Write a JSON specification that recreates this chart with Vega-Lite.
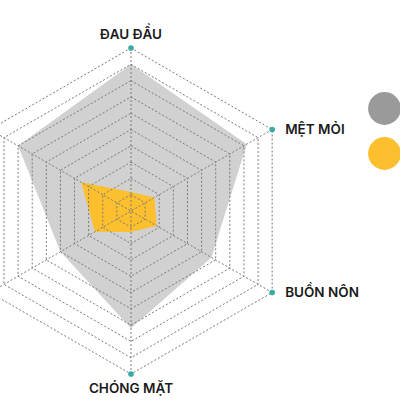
{
  "$schema": "https://vega.github.io/schema/vega-lite/v6.json",
  "width": 400,
  "height": 400,
  "padding": 0,
  "autosize": "none",
  "config": {"view": {"stroke": null}, "font": "Inter"},
  "datasets": {
    "axes": [
      {"idx": 0, "name": "ĐAU ĐẦU"},
      {"idx": 1, "name": "MỆT MỎI"},
      {"idx": 2, "name": "BUỒN NÔN"},
      {"idx": 3, "name": "CHÓNG MẶT"},
      {"idx": 4, "name": "CHÁN ĂN"},
      {"idx": 5, "name": "MẤT NGỦ"}
    ],
    "scores": [
      {"series": "Nhóm 1", "idx": 0, "value": 9.0},
      {"series": "Nhóm 1", "idx": 1, "value": 8.2},
      {"series": "Nhóm 1", "idx": 2, "value": 5.7},
      {"series": "Nhóm 1", "idx": 3, "value": 7.2},
      {"series": "Nhóm 1", "idx": 4, "value": 5.0},
      {"series": "Nhóm 1", "idx": 5, "value": 8.0},
      {"series": "Nhóm 2", "idx": 0, "value": 1.17},
      {"series": "Nhóm 2", "idx": 1, "value": 1.66},
      {"series": "Nhóm 2", "idx": 2, "value": 1.82},
      {"series": "Nhóm 2", "idx": 3, "value": 1.29},
      {"series": "Nhóm 2", "idx": 4, "value": 2.56},
      {"series": "Nhóm 2", "idx": 5, "value": 3.53}
    ],
    "rings": [
      {"ring": 1, "k": [0, 1, 2, 3, 4, 5]},
      {"ring": 2, "k": [0, 1, 2, 3, 4, 5]},
      {"ring": 3, "k": [0, 1, 2, 3, 4, 5]},
      {"ring": 4, "k": [0, 1, 2, 3, 4, 5]},
      {"ring": 5, "k": [0, 1, 2, 3, 4, 5]},
      {"ring": 6, "k": [0, 1, 2, 3, 4, 5]},
      {"ring": 7, "k": [0, 1, 2, 3, 4, 5]},
      {"ring": 8, "k": [0, 1, 2, 3, 4, 5]},
      {"ring": 9, "k": [0, 1, 2, 3, 4, 5]},
      {"ring": 10, "k": [0, 1, 2, 3, 4, 5]}
    ]
  },
  "layer": [
    {
      "data": {"name": "scores"},
      "transform": [
        {"calculate": "datum.value * sin(datum.idx * PI / 3)", "as": "px"},
        {"calculate": "datum.value * cos(datum.idx * PI / 3)", "as": "py"}
      ],
      "mark": {"type": "line", "filled": true, "interpolate": "linear-closed", "strokeWidth": 0},
      "encoding": {
        "x": {"field": "px", "type": "quantitative", "scale": {"domain": [-8.037, 16.503]}, "axis": null},
        "y": {"field": "py", "type": "quantitative", "scale": {"domain": [-11.595, 12.945]}, "axis": null},
        "order": {"field": "idx", "type": "quantitative"},
        "color": {
          "field": "series",
          "type": "nominal",
          "scale": {"domain": ["Nhóm 1", "Nhóm 2"], "range": ["#9a9a9a", "#fcbf2d"]},
          "legend": {
            "orient": "none",
            "legendX": 368,
            "legendY": 92,
            "title": null,
            "symbolType": "circle",
            "symbolSize": 1075,
            "symbolStrokeWidth": 0,
            "symbolOpacity": 1,
            "rowPadding": 12,
            "labelFontSize": 13,
            "labelFont": "Inter"
          }
        },
        "opacity": {
          "condition": {"test": "datum.series == 'Nhóm 1'", "value": 0.45},
          "value": 1
        }
      }
    },
    {
      "data": {"name": "rings"},
      "transform": [
        {"flatten": ["k"]},
        {"calculate": "datum.ring * sin(datum.k * PI / 3)", "as": "px"},
        {"calculate": "datum.ring * cos(datum.k * PI / 3)", "as": "py"}
      ],
      "mark": {"type": "line", "interpolate": "linear-closed", "color": "#7a7a7a", "strokeWidth": 1, "strokeDash": [2, 2]},
      "encoding": {
        "x": {"field": "px", "type": "quantitative", "scale": {"domain": [-8.037, 16.503]}, "axis": null},
        "y": {"field": "py", "type": "quantitative", "scale": {"domain": [-11.595, 12.945]}, "axis": null},
        "detail": {"field": "ring", "type": "nominal"},
        "order": {"field": "k", "type": "quantitative"}
      }
    },
    {
      "data": {"name": "axes"},
      "transform": [
        {"calculate": "10 * sin(datum.idx * PI / 3)", "as": "px"},
        {"calculate": "10 * cos(datum.idx * PI / 3)", "as": "py"}
      ],
      "mark": {"type": "rule", "color": "#7a7a7a", "strokeWidth": 1, "strokeDash": [2, 2]},
      "encoding": {
        "x": {"field": "px", "type": "quantitative", "scale": {"domain": [-8.037, 16.503]}, "axis": null},
        "y": {"field": "py", "type": "quantitative", "scale": {"domain": [-11.595, 12.945]}, "axis": null},
        "x2": {"datum": 0},
        "y2": {"datum": 0}
      }
    },
    {
      "data": {"name": "axes"},
      "transform": [
        {"calculate": "10 * sin(datum.idx * PI / 3)", "as": "px"},
        {"calculate": "10 * cos(datum.idx * PI / 3)", "as": "py"}
      ],
      "mark": {"type": "circle", "color": "#3aaba3", "size": 32, "opacity": 1},
      "encoding": {
        "x": {"field": "px", "type": "quantitative", "scale": {"domain": [-8.037, 16.503]}, "axis": null},
        "y": {"field": "py", "type": "quantitative", "scale": {"domain": [-11.595, 12.945]}, "axis": null}
      }
    },
    {
      "data": {"name": "axes"},
      "transform": [
        {"filter": "datum.idx == 0"},
        {"calculate": "10 * sin(datum.idx * PI / 3)", "as": "px"},
        {"calculate": "10 * cos(datum.idx * PI / 3)", "as": "py"}
      ],
      "mark": {"type": "text", "align": "center", "baseline": "alphabetic", "dy": -9, "fontSize": 13.5, "fontWeight": 600, "color": "#1a1a1a"},
      "encoding": {
        "x": {"field": "px", "type": "quantitative", "scale": {"domain": [-8.037, 16.503]}, "axis": null},
        "y": {"field": "py", "type": "quantitative", "scale": {"domain": [-11.595, 12.945]}, "axis": null},
        "text": {"field": "name", "type": "nominal"}
      }
    },
    {
      "data": {"name": "axes"},
      "transform": [
        {"filter": "datum.idx == 3"},
        {"calculate": "10 * sin(datum.idx * PI / 3)", "as": "px"},
        {"calculate": "10 * cos(datum.idx * PI / 3)", "as": "py"}
      ],
      "mark": {"type": "text", "align": "center", "baseline": "alphabetic", "dy": 19, "fontSize": 13.5, "fontWeight": 600, "color": "#1a1a1a"},
      "encoding": {
        "x": {"field": "px", "type": "quantitative", "scale": {"domain": [-8.037, 16.503]}, "axis": null},
        "y": {"field": "py", "type": "quantitative", "scale": {"domain": [-11.595, 12.945]}, "axis": null},
        "text": {"field": "name", "type": "nominal"}
      }
    },
    {
      "data": {"name": "axes"},
      "transform": [
        {"filter": "datum.idx == 1 || datum.idx == 2"},
        {"calculate": "10 * sin(datum.idx * PI / 3)", "as": "px"},
        {"calculate": "10 * cos(datum.idx * PI / 3)", "as": "py"}
      ],
      "mark": {"type": "text", "align": "left", "baseline": "middle", "dx": 13, "fontSize": 13.5, "fontWeight": 600, "color": "#1a1a1a"},
      "encoding": {
        "x": {"field": "px", "type": "quantitative", "scale": {"domain": [-8.037, 16.503]}, "axis": null},
        "y": {"field": "py", "type": "quantitative", "scale": {"domain": [-11.595, 12.945]}, "axis": null},
        "text": {"field": "name", "type": "nominal"}
      }
    },
    {
      "data": {"name": "axes"},
      "transform": [
        {"filter": "datum.idx == 4 || datum.idx == 5"},
        {"calculate": "10 * sin(datum.idx * PI / 3)", "as": "px"},
        {"calculate": "10 * cos(datum.idx * PI / 3)", "as": "py"}
      ],
      "mark": {"type": "text", "align": "right", "baseline": "middle", "dx": -13, "fontSize": 13.5, "fontWeight": 600, "color": "#1a1a1a"},
      "encoding": {
        "x": {"field": "px", "type": "quantitative", "scale": {"domain": [-8.037, 16.503]}, "axis": null},
        "y": {"field": "py", "type": "quantitative", "scale": {"domain": [-11.595, 12.945]}, "axis": null},
        "text": {"field": "name", "type": "nominal"}
      }
    }
  ]
}
